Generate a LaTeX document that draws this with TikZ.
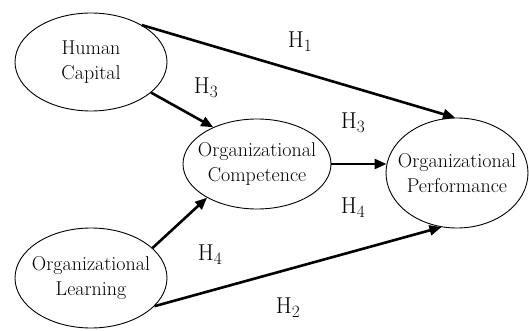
\documentclass[tikz,border=0pt]{standalone}
\usetikzlibrary{shapes.geometric,arrows.meta}
\newcommand{\zw}[1]{\makebox[0pt]{#1}}
\begin{document}
\begin{tikzpicture}[x=1pt,y=-1pt,
  elli/.style={draw,ellipse,line width=0.9pt,inner sep=0pt,align=center,font=\fontsize{20}{25}\selectfont},
  conn/.style={line width=2.6pt,-{Triangle[length=12pt,width=10pt]}},
  hyp/.style={font=\fontsize{23}{26}\selectfont}]
\useasboundingbox (0,0) rectangle (529,331);
\node[elli,minimum width=152pt,minimum height=98pt] (hc) at (91,62) {\zw{Human}\\\zw{Capital}};
\node[elli,minimum width=148pt,minimum height=90pt] (oc) at (257,164) {\zw{Organizational}\\\zw{Competence}};
\node[elli,minimum width=142pt,minimum height=110pt] (op) at (457,173) {\zw{Organizational}\\\zw{Performance}};
\node[elli,minimum width=152pt,minimum height=100pt] (ol) at (91,278) {\zw{Organizational}\\\zw{Learning}};
\coordinate (ocr) at ([xshift=1pt]op.west |- oc.east);
\draw[conn] (hc.36) -- (op.92);
\draw[conn] (hc.-27) -- (oc.140);
\draw[conn] (oc.east) -- (ocr);
\draw[conn] (ol.26) -- (oc.-146);
\draw[conn] (ol.-24) -- (op.-106);
\node[hyp] (h1) at (300,42) {H$_1$};
\node[hyp] (h3a) at (206,88) {H$_3$};
\node[hyp] (h3b) at (353,123) {H$_3$};
\node[hyp] (h4b) at (353,208) {H$_4$};
\node[hyp] (h4a) at (210,255) {H$_4$};
\node[hyp] (h2) at (288,308) {H$_2$};
\end{tikzpicture}
\end{document}
